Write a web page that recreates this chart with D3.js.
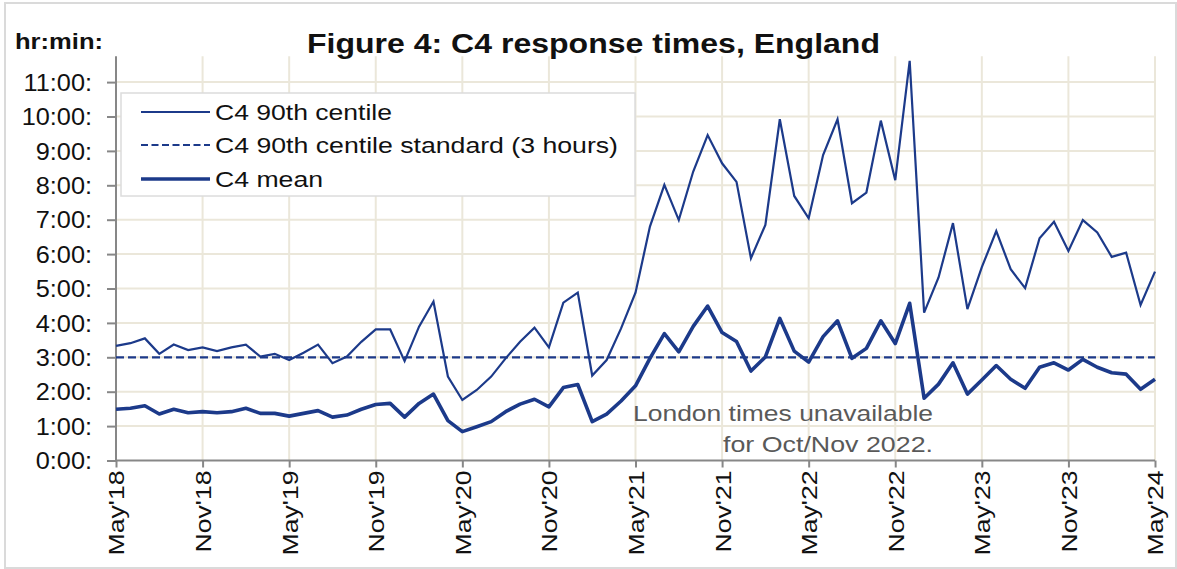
<!DOCTYPE html>
<html>
<head>
<meta charset="utf-8">
<script src="https://cdn.jsdelivr.net/npm/d3@7"></script>
<style>
  html, body { margin: 0; padding: 0; background: #fff; }
  svg { display: block; font-family: "Liberation Sans", Arial, sans-serif; }
</style>
</head>
<body>
<svg id="chart" width="1177" height="569"></svg>
<script>
// Monthly C4 response times, May 2018 to May 2024 (hours, decimal)
const startMonth = new Date(2018, 4, 1);
const months = d3.timeMonth.range(startMonth, new Date(2024, 5, 1));

const centile90 = [
  3.33, 3.41, 3.55, 3.10, 3.37, 3.21, 3.29, 3.18, 3.29, 3.37, 3.02, 3.10,
  2.92, 3.13, 3.37, 2.83, 3.02, 3.45, 3.81, 3.81, 2.89, 3.89, 4.62, 2.44,
  1.76, 2.05, 2.44, 2.97, 3.45, 3.86, 3.29, 4.59, 4.88, 2.47, 2.92, 3.84,
  4.88, 6.80, 8.01, 6.99, 8.40, 9.46, 8.64, 8.10, 5.88, 6.85, 9.92, 7.69,
  7.04, 8.88, 9.92, 7.48, 7.79, 9.88, 8.15, 11.62, 4.30, 5.32, 6.90, 4.40,
  5.62, 6.67, 5.56, 5.01, 6.46, 6.94, 6.09, 6.99, 6.63, 5.92, 6.04, 4.52,
  5.49
];

const meanTimes = [
  1.49, 1.52, 1.59, 1.35, 1.49, 1.39, 1.42, 1.39, 1.42, 1.52, 1.37, 1.37,
  1.29, 1.37, 1.45, 1.26, 1.32, 1.49, 1.63, 1.66, 1.26, 1.66, 1.93, 1.16,
  0.84, 0.98, 1.13, 1.42, 1.64, 1.78, 1.56, 2.12, 2.21, 1.13, 1.35, 1.73,
  2.17, 2.97, 3.69, 3.16, 3.90, 4.49, 3.72, 3.46, 2.60, 3.01, 4.13, 3.18,
  2.86, 3.60, 4.06, 2.97, 3.26, 4.06, 3.40, 4.57, 1.81, 2.22, 2.84, 1.93,
  2.34, 2.76, 2.36, 2.10, 2.71, 2.84, 2.63, 2.94, 2.71, 2.55, 2.51, 2.07,
  2.36
];

const standardHours = 3;

const xTickIndex = [0, 6, 12, 18, 24, 30, 36, 42, 48, 54, 60, 66, 72];
const xTickLabels = ["May'18", "Nov'18", "May'19", "Nov'19", "May'20", "Nov'20",
  "May'21", "Nov'21", "May'22", "Nov'22", "May'23", "Nov'23", "May'24"];
const yTicks = [0, 1, 2, 3, 4, 5, 6, 7, 8, 9, 10, 11];
const yTickLabels = ["0:00:", "1:00:", "2:00:", "3:00:", "4:00:", "5:00:",
  "6:00:", "7:00:", "8:00:", "9:00:", "10:00:", "11:00:"];

const seriesNames = ["C4 90th centile", "C4 90th centile standard (3 hours)", "C4 mean"];

const blue = "#1c3a8a";
const gridColor = "#ebe7da";
const axisColor = "#878787";

const svg = d3.select("#chart");

const x = d3.scaleLinear().domain([0, months.length - 1]).range([116, 1155]);
const y = d3.scaleLinear().domain([0, 11.75]).range([460.5, 56.3]);

// outer frame
svg.append("rect")
  .attr("x", 5).attr("y", 3).attr("width", 1171).attr("height", 565)
  .attr("fill", "none").attr("stroke", "#dadada").attr("stroke-width", 2);

// gridlines
const grid = svg.append("g");
grid.selectAll("line.h").data(yTicks.slice(1)).join("line")
  .attr("x1", x.range()[0]).attr("x2", x.range()[1])
  .attr("y1", d => y(d)).attr("y2", d => y(d))
  .attr("stroke", gridColor).attr("stroke-width", 2);
grid.selectAll("line.v").data(xTickIndex.slice(1)).join("line")
  .attr("x1", d => x(d)).attr("x2", d => x(d))
  .attr("y1", y.range()[1]).attr("y2", y.range()[0])
  .attr("stroke", gridColor).attr("stroke-width", 2);

// y axis
const yAxis = svg.append("g")
  .attr("transform", `translate(${x.range()[0]},0)`)
  .call(d3.axisLeft(y).tickValues(yTicks).tickSize(9).tickFormat((d, i) => yTickLabels[i]));
yAxis.select(".domain").attr("stroke", axisColor).attr("stroke-width", 2)
  .attr("d", `M0,${y.range()[1]}V${y.range()[0] + 1}`);
yAxis.selectAll(".tick line").attr("stroke", axisColor).attr("stroke-width", 2);
yAxis.selectAll(".tick text")
  .attr("x", null).attr("dy", "0.36em")
  .attr("font-size", 23).attr("fill", "#111")
  .attr("font-family", "Liberation Sans, Arial, sans-serif")
  .attr("text-anchor", "end")
  .attr("transform", "translate(-24,0) scale(1.1,1)");

// x axis
const xAxis = svg.append("g")
  .attr("transform", `translate(0,${y.range()[0]})`)
  .call(d3.axisBottom(x).tickValues(xTickIndex).tickSize(7).tickFormat((d, i) => xTickLabels[i]));
xAxis.select(".domain").attr("stroke", axisColor).attr("stroke-width", 2)
  .attr("d", `M${x.range()[0] - 1},0H${x.range()[1]}`);
xAxis.selectAll(".tick line").attr("stroke", axisColor).attr("stroke-width", 2);
xAxis.selectAll(".tick text")
  .attr("x", null).attr("y", null).attr("dy", "0.36em")
  .attr("font-size", 22).attr("fill", "#111")
  .attr("font-family", "Liberation Sans, Arial, sans-serif")
  .attr("text-anchor", "end")
  .attr("transform", "translate(0,10) rotate(-90) scale(1.21,1)");

// legend
const legend = svg.append("g");
legend.append("rect")
  .attr("x", 121).attr("y", 93).attr("width", 514).attr("height", 103)
  .attr("fill", "#fff").attr("stroke", "#dcdcdc").attr("stroke-width", 1.5);
const legendRows = [
  { name: seriesNames[0], width: 2.2, dash: null, y: 112, len: 177 },
  { name: seriesNames[1], width: 2.2, dash: "7,3.5", y: 145, len: 403 },
  { name: seriesNames[2], width: 3.6, dash: null, y: 179, len: 108 }
];
legendRows.forEach(r => {
  legend.append("line")
    .attr("x1", 141).attr("x2", 210).attr("y1", r.y).attr("y2", r.y)
    .attr("stroke", blue).attr("stroke-width", r.width)
    .attr("stroke-dasharray", r.dash);
  legend.append("text")
    .attr("x", 215).attr("y", r.y + 7.5)
    .attr("font-size", 22).attr("fill", "#111")
    .attr("textLength", r.len).attr("lengthAdjust", "spacingAndGlyphs")
    .text(r.name);
});

// series
const lineGen = d3.line().x((d, i) => x(i)).y(d => y(d));

svg.append("line")
  .attr("x1", x.range()[0]).attr("x2", x.range()[1])
  .attr("y1", y(standardHours)).attr("y2", y(standardHours))
  .attr("stroke", blue).attr("stroke-width", 2.2)
  .attr("stroke-dasharray", "8,4");

svg.append("path").datum(centile90)
  .attr("d", lineGen).attr("fill", "none")
  .attr("stroke", blue).attr("stroke-width", 2.2).attr("stroke-linejoin", "miter");

svg.append("path").datum(meanTimes)
  .attr("d", lineGen).attr("fill", "none")
  .attr("stroke", blue).attr("stroke-width", 3.6).attr("stroke-linejoin", "round");

// note about London data
const note = svg.append("g").attr("fill", "#595959").attr("font-size", 22);
note.append("text").attr("x", 933).attr("y", 421).attr("text-anchor", "end")
  .attr("textLength", 300).attr("lengthAdjust", "spacingAndGlyphs")
  .text("London times unavailable");
note.append("text").attr("x", 933).attr("y", 452).attr("text-anchor", "end")
  .attr("textLength", 210).attr("lengthAdjust", "spacingAndGlyphs")
  .text("for Oct/Nov 2022.");

// titles
svg.append("text")
  .attr("x", 15).attr("y", 49)
  .attr("font-size", 22).attr("font-weight", "bold").attr("fill", "#111")
  .attr("textLength", 88).attr("lengthAdjust", "spacingAndGlyphs")
  .text("hr:min:");

svg.append("text")
  .attr("x", 307).attr("y", 53)
  .attr("font-size", 27).attr("font-weight", "bold").attr("fill", "#111")
  .attr("textLength", 573).attr("lengthAdjust", "spacingAndGlyphs")
  .text("Figure 4: C4 response times, England");
</script>
</body>
</html>
